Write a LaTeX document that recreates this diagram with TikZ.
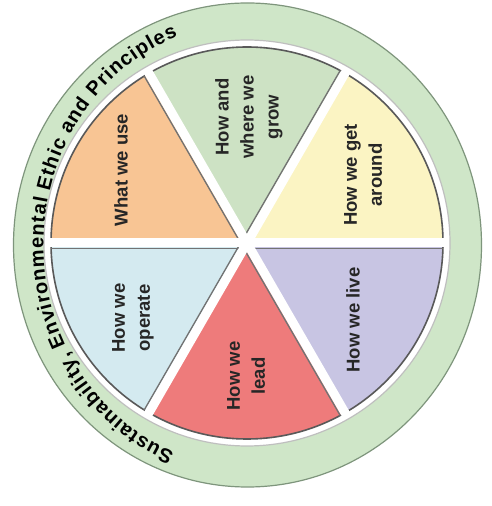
\documentclass[tikz,border=0pt]{standalone}
\usepackage{fontspec}
\setmainfont{Liberation Sans}
\usetikzlibrary{decorations.text}
\definecolor{ringgreen}{HTML}{CFE6C8}
\definecolor{ringedge}{HTML}{7E957C}
\definecolor{cgreen}{HTML}{CDE2C4}
\definecolor{corange}{HTML}{F8C594}
\definecolor{cyellow}{HTML}{FBF4C3}
\definecolor{clavender}{HTML}{C8C5E3}
\definecolor{cred}{HTML}{EE7B7B}
\definecolor{cblue}{HTML}{D4EAF0}
\newcommand\ringfont{\bfseries\fontsize{20}{20}\selectfont}
\begin{document}
\begin{tikzpicture}[x=1pt,y=1pt,
  sectortext/.style={rotate=90, align=center, font=\bfseries\fontsize{18.5}{25}\selectfont, text=black!85, inner sep=0pt},
  gapline/.style={white, line width=9pt},
  shadeline/.style={black!55, line width=1.4pt}]
\useasboundingbox (0,0) rectangle (492,506);
\fill[white] (0,0) rectangle (492,506);
\coordinate (R) at (247.5,261);
\coordinate (C) at (247,263);
% outer ring
\fill[ringgreen] (R) ellipse [x radius=234pt, y radius=242pt];
\draw[ringedge, line width=1.2pt] (R) ellipse [x radius=234pt, y radius=242pt];
% white bevel band
\fill[white] (C) circle [radius=203pt];
\draw[black!25, line width=1.2pt] (C) circle [radius=203pt];
% sectors
\begin{scope}[shift={(C)}]
\fill[cyellow]   (0,0) -- (0:196pt)   arc[start angle=0,   end angle=60,  radius=196pt] -- cycle;
\fill[cgreen]    (0,0) -- (60:196pt)  arc[start angle=60,  end angle=120, radius=196pt] -- cycle;
\fill[corange]   (0,0) -- (120:196pt) arc[start angle=120, end angle=180, radius=196pt] -- cycle;
\fill[cblue]     (0,0) -- (180:196pt) arc[start angle=180, end angle=240, radius=196pt] -- cycle;
\fill[cred]      (0,0) -- (240:196pt) arc[start angle=240, end angle=300, radius=196pt] -- cycle;
\fill[clavender] (0,0) -- (300:196pt) arc[start angle=300, end angle=360, radius=196pt] -- cycle;
\draw[black!65, line width=1.6pt] (0,0) circle [radius=196pt];
\begin{scope}
\clip (0,0) circle [radius=196pt];
\draw[shadeline, shift={(150:5.5pt)}] (60:200pt) -- (240:200pt);
\draw[shadeline, shift={(210:5.5pt)}] (120:200pt) -- (300:200pt);
\draw[shadeline, shift={(270:5.5pt)}] (0:200pt) -- (180:200pt);
\end{scope}
\draw[gapline] (0:201pt) -- (180:201pt);
\draw[gapline] (60:201pt) -- (240:201pt);
\draw[gapline] (120:201pt) -- (300:201pt);
\end{scope}
% sector labels
\node[sectortext] (use)     at (121,336) {What we use};
\node[sectortext] (grow)    at (249,389) {How and\\where we\\grow};
\node[sectortext] (around)  at (363,331) {How we get\\around};
\node[sectortext] (live)    at (353,186) {How we live};
\node[sectortext] (lead)    at (246,130) {How we\\lead};
\node[sectortext] (operate) at (133,188) {How we\\operate};
% ring text
\path[decorate, decoration={text along path, text align=fit to path,
  text={|\ringfont|Sustainability, Environmental Ethic and Principles}}]
  (R) ++(249:204pt and 222pt) arc[start angle=249, end angle=110, x radius=204pt, y radius=222pt];
\end{tikzpicture}
\end{document}
